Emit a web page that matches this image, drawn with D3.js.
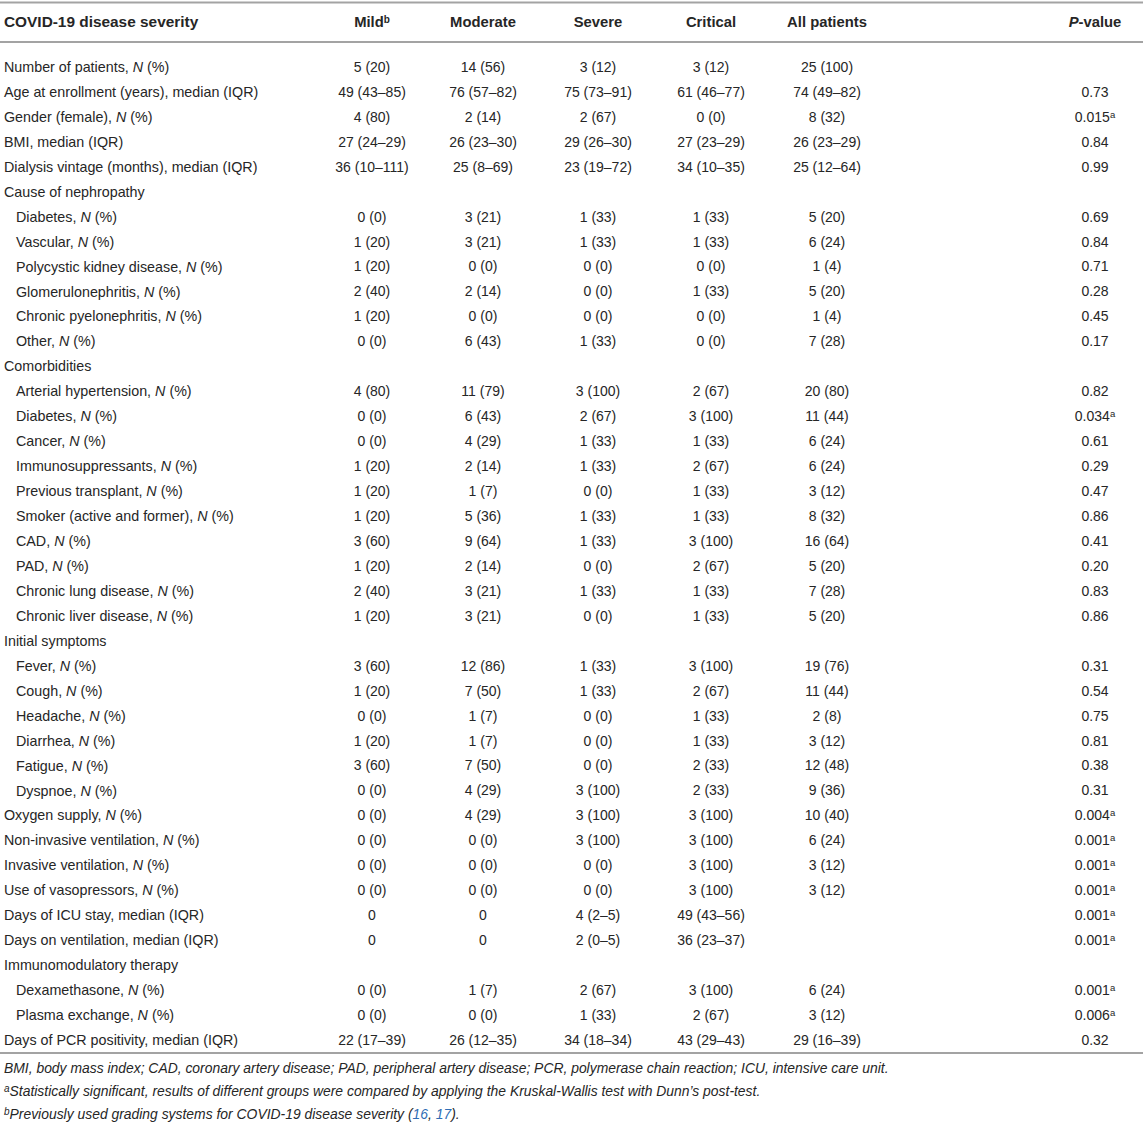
<!DOCTYPE html>
<html>
<head>
<meta charset="utf-8">
<script src="https://cdn.jsdelivr.net/npm/d3@7"></script>
<style>
  body { margin: 0; background: #fff; }
  svg text { font-family: "Liberation Sans", Arial, sans-serif; fill: #262626; }
</style>
</head>
<body>
<div class="tableau"></div>
<script>
// column headers (sup = superscript mark)
var columns = [
  { key: 'label', text: 'COVID-19 disease severity' },
  { key: 'mild', text: 'Mild', sup: 'b' },
  { key: 'moderate', text: 'Moderate' },
  { key: 'severe', text: 'Severe' },
  { key: 'critical', text: 'Critical' },
  { key: 'all', text: 'All patients' },
  { key: 'p', text: 'P-value' }
]

// row labels; level 0 = main row, 1 = indented, 'g' = group title
var labels = [
  ['Number of patients, N (%)', 0],
  ['Age at enrollment (years), median (IQR)', 0],
  ['Gender (female), N (%)', 0],
  ['BMI, median (IQR)', 0],
  ['Dialysis vintage (months), median (IQR)', 0],
  ['Cause of nephropathy', 'g'],
  ['Diabetes, N (%)', 1],
  ['Vascular, N (%)', 1],
  ['Polycystic kidney disease, N (%)', 1],
  ['Glomerulonephritis, N (%)', 1],
  ['Chronic pyelonephritis, N (%)', 1],
  ['Other, N (%)', 1],
  ['Comorbidities', 'g'],
  ['Arterial hypertension, N (%)', 1],
  ['Diabetes, N (%)', 1],
  ['Cancer, N (%)', 1],
  ['Immunosuppressants, N (%)', 1],
  ['Previous transplant, N (%)', 1],
  ['Smoker (active and former), N (%)', 1],
  ['CAD, N (%)', 1],
  ['PAD, N (%)', 1],
  ['Chronic lung disease, N (%)', 1],
  ['Chronic liver disease, N (%)', 1],
  ['Initial symptoms', 'g'],
  ['Fever, N (%)', 1],
  ['Cough, N (%)', 1],
  ['Headache, N (%)', 1],
  ['Diarrhea, N (%)', 1],
  ['Fatigue, N (%)', 1],
  ['Dyspnoe, N (%)', 1],
  ['Oxygen supply, N (%)', 0],
  ['Non-invasive ventilation, N (%)', 0],
  ['Invasive ventilation, N (%)', 0],
  ['Use of vasopressors, N (%)', 0],
  ['Days of ICU stay, median (IQR)', 0],
  ['Days on ventilation, median (IQR)', 0],
  ['Immunomodulatory therapy', 'g'],
  ['Dexamethasone, N (%)', 1],
  ['Plasma exchange, N (%)', 1],
  ['Days of PCR positivity, median (IQR)', 0]
]

var mild = ['5 (20)', '49 (43–85)', '4 (80)', '27 (24–29)', '36 (10–111)', '',
  '0 (0)', '1 (20)', '1 (20)', '2 (40)', '1 (20)', '0 (0)', '',
  '4 (80)', '0 (0)', '0 (0)', '1 (20)', '1 (20)', '1 (20)', '3 (60)', '1 (20)', '2 (40)', '1 (20)', '',
  '3 (60)', '1 (20)', '0 (0)', '1 (20)', '3 (60)', '0 (0)',
  '0 (0)', '0 (0)', '0 (0)', '0 (0)', '0', '0', '', '0 (0)', '0 (0)', '22 (17–39)']

var moderate = ['14 (56)', '76 (57–82)', '2 (14)', '26 (23–30)', '25 (8–69)', '',
  '3 (21)', '3 (21)', '0 (0)', '2 (14)', '0 (0)', '6 (43)', '',
  '11 (79)', '6 (43)', '4 (29)', '2 (14)', '1 (7)', '5 (36)', '9 (64)', '2 (14)', '3 (21)', '3 (21)', '',
  '12 (86)', '7 (50)', '1 (7)', '1 (7)', '7 (50)', '4 (29)',
  '4 (29)', '0 (0)', '0 (0)', '0 (0)', '0', '0', '', '1 (7)', '0 (0)', '26 (12–35)']

var severe = ['3 (12)', '75 (73–91)', '2 (67)', '29 (26–30)', '23 (19–72)', '',
  '1 (33)', '1 (33)', '0 (0)', '0 (0)', '0 (0)', '1 (33)', '',
  '3 (100)', '2 (67)', '1 (33)', '1 (33)', '0 (0)', '1 (33)', '1 (33)', '0 (0)', '1 (33)', '0 (0)', '',
  '1 (33)', '1 (33)', '0 (0)', '0 (0)', '0 (0)', '3 (100)',
  '3 (100)', '3 (100)', '0 (0)', '0 (0)', '4 (2–5)', '2 (0–5)', '', '2 (67)', '1 (33)', '34 (18–34)']

var critical = ['3 (12)', '61 (46–77)', '0 (0)', '27 (23–29)', '34 (10–35)', '',
  '1 (33)', '1 (33)', '0 (0)', '1 (33)', '0 (0)', '0 (0)', '',
  '2 (67)', '3 (100)', '1 (33)', '2 (67)', '1 (33)', '1 (33)', '3 (100)', '2 (67)', '1 (33)', '1 (33)', '',
  '3 (100)', '2 (67)', '1 (33)', '1 (33)', '2 (33)', '2 (33)',
  '3 (100)', '3 (100)', '3 (100)', '3 (100)', '49 (43–56)', '36 (23–37)', '', '3 (100)', '2 (67)', '43 (29–43)']

var allPatients = ['25 (100)', '74 (49–82)', '8 (32)', '26 (23–29)', '25 (12–64)', '',
  '5 (20)', '6 (24)', '1 (4)', '5 (20)', '1 (4)', '7 (28)', '',
  '20 (80)', '11 (44)', '6 (24)', '6 (24)', '3 (12)', '8 (32)', '16 (64)', '5 (20)', '7 (28)', '5 (20)', '',
  '19 (76)', '11 (44)', '2 (8)', '3 (12)', '12 (48)', '9 (36)',
  '10 (40)', '6 (24)', '3 (12)', '3 (12)', '', '', '', '6 (24)', '3 (12)', '29 (16–39)']

// '^a' marks superscript
var pValues = ['', '0.73', '0.015^a', '0.84', '0.99', '',
  '0.69', '0.84', '0.71', '0.28', '0.45', '0.17', '',
  '0.82', '0.034^a', '0.61', '0.29', '0.47', '0.86', '0.41', '0.20', '0.83', '0.86', '',
  '0.31', '0.54', '0.75', '0.81', '0.38', '0.31',
  '0.004^a', '0.001^a', '0.001^a', '0.001^a', '0.001^a', '0.001^a', '', '0.001^a', '0.006^a', '0.32']

var footnotes = [
  [{ t: 'BMI, body mass index; CAD, coronary artery disease; PAD, peripheral artery disease; PCR, polymerase chain reaction; ICU, intensive care unit.' }],
  [{ t: 'a', sup: true }, { t: 'Statistically significant, results of different groups were compared by applying the Kruskal-Wallis test with Dunn’s post-test.' }],
  [{ t: 'b', sup: true }, { t: 'Previously used grading systems for COVID-19 disease severity (' }, { t: '16', link: true }, { t: ', ' }, { t: '17', link: true }, { t: ').' }]
]

;(function () {
  var W = 1143
  var H = 1130
  var FONT = 14.3
  var LINE = '#a3a3a3'

  var svg = d3.select('.tableau').append('svg')
    .attr('width', W)
    .attr('height', H)

  var series = [mild, moderate, severe, critical, allPatients, pValues]

  // column centers
  var x = d3.scaleOrdinal()
    .domain(columns.slice(1).map(function (c) { return c.key }))
    .range([372, 483, 598, 711, 827, 1095])

  // rows
  var y = d3.scaleBand()
    .domain(d3.range(labels.length))
    .range([54.5, 1052.5])

  // rules
  ;[2.5, 42, 1053].forEach(function (ly) {
    svg.append('line')
      .attr('x1', 0).attr('x2', W)
      .attr('y1', ly).attr('y2', ly)
      .attr('stroke', LINE)
      .attr('stroke-width', 2)
  })

  // header
  var header = svg.append('g').attr('class', 'header')
  columns.forEach(function (c, i) {
    var t = header.append('text')
      .attr('x', i === 0 ? 4 : x(c.key))
      .attr('y', 22)
      .attr('dy', '0.35em')
      .attr('text-anchor', i === 0 ? 'start' : 'middle')
      .attr('font-size', i === 0 ? 15.4 : 14.8)
      .attr('font-weight', 'bold')
    if (c.key === 'p') {
      t.append('tspan').attr('font-style', 'italic').text('P')
      t.append('tspan').text('-value')
    } else {
      t.append('tspan').text(c.text)
    }
    if (c.sup) appendSup(t, c.sup, 10)
  })

  // body
  var body = svg.append('g').attr('class', 'body')
  labels.forEach(function (l, i) {
    var t = body.append('text')
      .attr('x', l[1] === 1 ? 16 : 4)
      .attr('y', y(i) + y.bandwidth() / 2)
      .attr('dy', '0.35em')
      .attr('font-size', FONT)
    l[0].split(/(\bN\b)/).forEach(function (part) {
      if (!part) return
      t.append('tspan')
        .attr('font-style', part === 'N' ? 'italic' : null)
        .text(part)
    })

    series.forEach(function (s, j) {
      var v = s[i]
      if (!v) return
      var cell = body.append('text')
        .attr('x', x(columns[j + 1].key))
        .attr('y', y(i) + y.bandwidth() / 2)
        .attr('dy', '0.35em')
        .attr('text-anchor', 'middle')
        .attr('font-size', 14)
      var parts = v.split('^')
      cell.append('tspan').text(parts[0])
      if (parts[1]) appendSup(cell, parts[1], 9.5)
    })
  })

  // footnotes
  var notes = svg.append('g').attr('class', 'notes')
  footnotes.forEach(function (n, i) {
    var t = notes.append('text')
      .attr('x', 4)
      .attr('y', 1068 + i * 23)
      .attr('dy', '0.35em')
      .attr('font-size', 13.9)
      .attr('font-style', 'italic')
    n.forEach(function (p) {
      if (p.sup) {
        appendSup(t, p.t, 10)
        return
      }
      t.append('tspan')
        .style('fill', p.link ? '#2f6db5' : null)
        .text(p.t)
    })
  })

  function appendSup (text, s, size) {
    text.append('tspan')
      .attr('font-size', size)
      .attr('baseline-shift', '40%')
      .text(s)
  }
})()
</script>
</body>
</html>
